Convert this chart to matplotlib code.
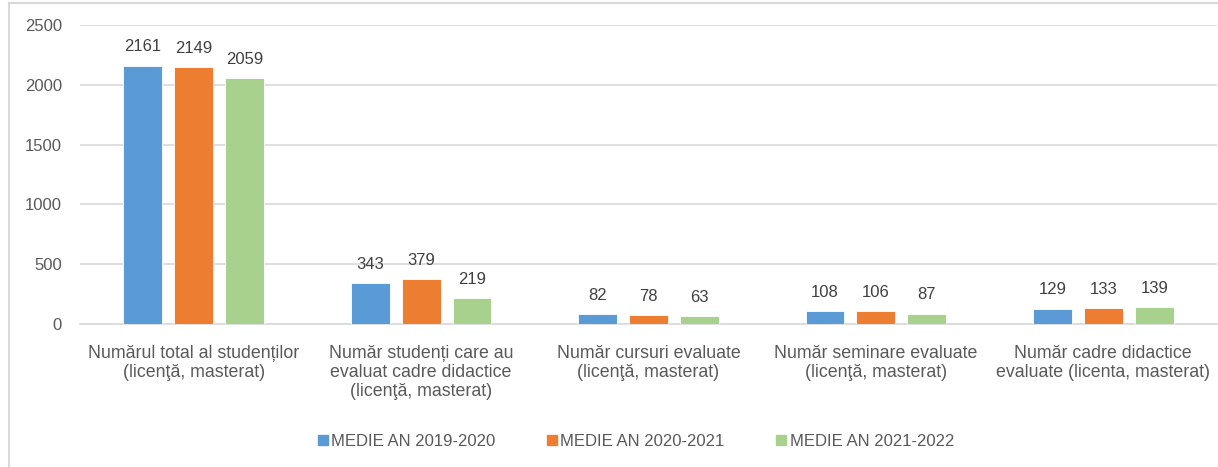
import matplotlib
matplotlib.use("Agg")
import matplotlib.pyplot as plt
import numpy as np
from matplotlib.lines import Line2D

categories = [
    "Numărul total al studenților\n(licenţă, masterat)",
    "Număr studenți care au\nevaluat cadre didactice\n(licenţă, masterat)",
    "Număr cursuri evaluate\n(licenţă, masterat)",
    "Număr seminare evaluate\n(licenţă, masterat)",
    "Număr cadre didactice\nevaluate (licenta, masterat)",
]
series_names = ["MEDIE AN 2019-2020", "MEDIE AN 2020-2021", "MEDIE AN 2021-2022"]
values_2019 = [2161, 343, 82, 108, 129]
values_2020 = [2149, 379, 78, 106, 133]
values_2021 = [2059, 219, 63, 87, 139]
yticks = [0, 500, 1000, 1500, 2000, 2500]

colors = ["#5B9BD5", "#ED7D31", "#A9D18E"]
text_color = "#595959"
plt.rcParams['font.family'] = ['Liberation Sans', 'DejaVu Sans']

W, H = 1218, 467
fig = plt.figure(figsize=(W / 100, H / 100), dpi=100)
ax = fig.add_axes([80 / W, 1 - 324 / H, (1217 - 80) / W, (324 - 25) / H])

x = np.arange(len(categories))
width = 0.171
step = 0.224
all_series = [values_2019, values_2020, values_2021]
for i, (vals, c, name) in enumerate(zip(all_series, colors, series_names)):
    pos = x + (i - 1) * step
    bars = ax.bar(pos, vals, width, color=c, label=name, edgecolor="white",
                  linewidth=0.6, zorder=3)
    for b, v in zip(bars, vals):
        ax.annotate(str(v), (b.get_x() + b.get_width() / 2, v),
                    xytext=(0, 8), textcoords="offset points",
                    ha="center", va="bottom", fontsize=12, color="#404040")

ax.set_xlim(-0.5, len(categories) - 0.5)
ax.set_ylim(0, 2500)
ax.set_yticks(yticks)
ax.set_yticklabels([str(t) for t in yticks])
ax.yaxis.grid(True, color="#D9D9D9", linewidth=1.2, zorder=0)
ax.set_axisbelow(True)
for s in ["top", "right", "left"]:
    ax.spines[s].set_visible(False)
ax.spines["bottom"].set_color("#D9D9D9")
ax.spines["bottom"].set_linewidth(1.2)
ax.tick_params(axis="y", length=0, pad=13, labelsize=12, labelcolor=text_color)
ax.tick_params(axis="x", length=0, pad=15, labelsize=12.8, labelcolor=text_color)
ax.set_xticks(x)
ax.set_xticklabels(categories, linespacing=1.15, va="top")

handles = [Line2D([0], [0], marker="s", linestyle="none", markersize=7,
                  markerfacecolor=c, markeredgecolor=c) for c in colors]
fig.legend(handles, series_names, loc="center", bbox_to_anchor=(635 / W, 1 - 441 / H),
           ncol=3, frameon=False, fontsize=12, labelcolor=text_color,
           handletextpad=0.1, columnspacing=3.0, handlelength=0.8)

# chart border (left and top)
fig.add_artist(Line2D([8.5 / W, 8.5 / W], [0, 1 - 2.5 / H], transform=fig.transFigure,
                      color="#D9D9D9", linewidth=1.5))
fig.add_artist(Line2D([8.5 / W, 1], [1 - 2.5 / H, 1 - 2.5 / H], transform=fig.transFigure,
                      color="#D9D9D9", linewidth=1.5))

fig.savefig("out.png", dpi=100)
